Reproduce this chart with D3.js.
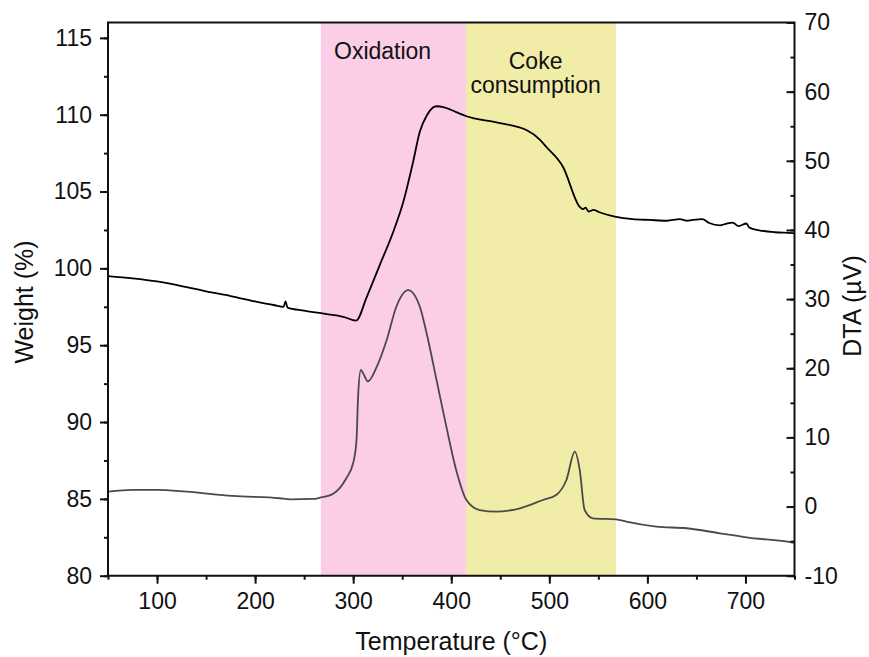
<!DOCTYPE html>
<html lang="en">
  <head>
    <meta charset="UTF-8" />
    <title>TGA / DTA</title>
    <script src="https://cdn.jsdelivr.net/npm/d3@7"></script>
    <style>
      body {
        margin: 0;
        background: #fff;
      }
      svg text {
        font-family: 'Liberation Sans', Arial, sans-serif;
        fill: #111;
      }
      .axis text {
        font-size: 23px;
      }
      .axis line {
        stroke: #111;
        stroke-width: 2px;
      }
      .axis path {
        display: none;
      }
      .title {
        font-size: 25px;
      }
      .note {
        font-size: 23px;
      }
    </style>
  </head>
  <body>
    <svg width="869" height="657"></svg>
    <script>
      // weight curve (left axis), temperature in degC, weight in %
      const weightT = [50, 75, 100, 125, 150, 175, 200, 220, 229, 231, 233, 250, 270, 290, 303,
        313.6, 327, 341, 351, 361, 368, 375, 381, 385, 392, 405, 415.5, 446, 476.6, 490, 497,
        514, 531, 534, 537, 540, 545, 551, 568, 585, 602, 620, 633, 640, 646, 656, 663, 674,
        680, 687, 693, 701, 704, 714, 730, 748, 750];
      const weightV = [99.5, 99.35, 99.15, 98.85, 98.5, 98.2, 97.85, 97.6, 97.5, 97.85, 97.45,
        97.25, 97.05, 96.85, 96.6, 98.1, 100.2, 102.4, 104.3, 106.9, 108.9, 109.95, 110.45,
        110.55, 110.5, 110.17, 109.9, 109.5, 109.0, 108.4, 107.9, 106.6, 104.0, 103.85, 103.95,
        103.7, 103.8, 103.65, 103.35, 103.2, 103.15, 103.1, 103.2, 103.1, 103.15, 103.2,
        102.95, 102.8, 102.9, 102.98, 102.75, 102.92, 102.65, 102.48, 102.35, 102.3, 102.28];

      // DTA curve (right axis), microvolts
      const dtaT = [50, 75, 100, 130, 177, 225, 236, 259, 266, 280, 293, 300, 303.4, 305,
        307.8, 310, 315, 324, 334, 344, 356, 368, 375, 385, 395, 405, 415.5, 429, 446, 470,
        493.5, 507, 517.4, 526, 531, 536, 544.5, 568, 578.5, 609, 640, 674, 701, 748, 750];
      const dtaV = [2.15, 2.4, 2.4, 2.15, 1.53, 1.2, 1.05, 1.1, 1.28, 1.9, 4.1, 6.3, 9.6, 15.9,
        19.75, 19.3, 18.1, 20.2, 24.0, 28.9, 31.3, 28.9, 25.0, 18.3, 11.55, 5.3, 0.95, -0.5,
        -0.74, -0.25, 0.95, 1.67, 3.84, 7.94, 5.3, -0.5, -1.7, -1.84, -2.19, -2.9, -3.14,
        -3.87, -4.45, -5.2, -5.25];

      // shaded temperature ranges
      const bandStart = [267, 415];
      const bandEnd = [415, 568];

      const xTicks = [100, 200, 300, 400, 500, 600, 700];
      const weightTicks = [80, 85, 90, 95, 100, 105, 110, 115];
      const dtaTicks = [-10, 0, 10, 20, 30, 40, 50, 60, 70];

      const pLeft = 108, pRight = 794.5, pTop = 22.5, pBottom = 575.7;

      const svg = d3.select('svg');

      const x = d3.scaleLinear().domain([50, 750]).range([pLeft, pRight]);
      const yW = d3.scaleLinear().domain([80, 116]).range([pBottom, pTop]);
      const yD = d3.scaleLinear().domain([-10, 70]).range([pBottom, pTop]);

      const bandColors = ['#fbcde6', '#f1eda9'];
      svg
        .selectAll('.band')
        .data(bandStart)
        .enter()
        .append('rect')
        .attr('class', 'band')
        .attr('x', (d) => x(d))
        .attr('y', pTop)
        .attr('width', (d, i) => x(bandEnd[i]) - x(d))
        .attr('height', pBottom - pTop)
        .attr('fill', (d, i) => bandColors[i]);

      svg.append('clipPath').attr('id', 'clip')
        .append('rect')
        .attr('x', pLeft).attr('y', pTop)
        .attr('width', pRight - pLeft).attr('height', pBottom - pTop);

      const dtaLine = d3.line()
        .x((d, i) => x(dtaT[i]))
        .y((d) => yD(d))
        .curve(d3.curveMonotoneX);

      const weightLine = d3.line()
        .x((d, i) => x(weightT[i]))
        .y((d) => yW(d))
        .curve(d3.curveMonotoneX);

      svg.append('path')
        .datum(dtaV)
        .attr('clip-path', 'url(#clip)')
        .attr('d', dtaLine)
        .attr('fill', 'none')
        .attr('stroke', '#4a4a4a')
        .attr('stroke-width', 1.8);

      svg.append('path')
        .datum(weightV)
        .attr('clip-path', 'url(#clip)')
        .attr('d', weightLine)
        .attr('fill', 'none')
        .attr('stroke', '#000')
        .attr('stroke-width', 1.8);

      const plain = (d) => String(d);

      // minor ticks
      svg.append('g').attr('class', 'axis')
        .attr('transform', 'translate(0,' + pBottom + ')')
        .call(d3.axisBottom(x).tickValues(d3.range(50, 751, 50)).tickSize(4).tickFormat(''));
      svg.append('g').attr('class', 'axis')
        .attr('transform', 'translate(' + pLeft + ',0)')
        .call(d3.axisLeft(yW).tickValues(d3.range(80, 116, 2.5)).tickSize(4).tickFormat(''));
      svg.append('g').attr('class', 'axis')
        .attr('transform', 'translate(' + pRight + ',0)')
        .call(d3.axisRight(yD).tickValues(d3.range(-10, 71, 5)).tickSize(-4).tickFormat(''));

      // major ticks
      svg.append('g').attr('class', 'axis')
        .attr('transform', 'translate(0,' + pBottom + ')')
        .call(d3.axisBottom(x).tickValues(xTicks).tickSize(8).tickPadding(9).tickFormat(plain));
      svg.append('g').attr('class', 'axis')
        .attr('transform', 'translate(' + pLeft + ',0)')
        .call(d3.axisLeft(yW).tickValues(weightTicks).tickSize(8).tickPadding(8).tickFormat(plain));
      svg.append('g').attr('class', 'axis')
        .attr('transform', 'translate(' + pRight + ',0)')
        .call(d3.axisRight(yD).tickValues(dtaTicks).tickSize(-8).tickPadding(10).tickFormat(plain));

      // frame
      svg.append('path')
        .attr('d', 'M' + pLeft + ',' + pBottom + 'V' + pTop + 'H' + pRight + 'V' + pBottom + 'Z')
        .attr('fill', 'none')
        .attr('stroke', '#111')
        .attr('stroke-width', 2);

      // band labels
      svg.append('text').attr('class', 'note')
        .attr('x', x(330)).attr('y', 59)
        .attr('text-anchor', 'middle')
        .text('Oxidation');
      const coke = svg.append('text').attr('class', 'note')
        .attr('x', x(486)).attr('y', 69)
        .attr('text-anchor', 'middle');
      coke.append('tspan').attr('x', x(486)).text('Coke');
      coke.append('tspan').attr('x', x(486)).attr('dy', 24).text('consumption');

      // axis titles
      svg.append('text').attr('class', 'title')
        .attr('x', (pLeft + pRight) / 2).attr('y', 650)
        .attr('text-anchor', 'middle')
        .text('Temperature (°C)');
      svg.append('text').attr('class', 'title')
        .attr('transform', 'translate(33,302) rotate(-90)')
        .attr('text-anchor', 'middle')
        .text('Weight (%)');
      svg.append('text').attr('class', 'title')
        .attr('transform', 'translate(861,306) rotate(-90)')
        .attr('text-anchor', 'middle')
        .text('DTA (µV)');
    </script>
  </body>
</html>
